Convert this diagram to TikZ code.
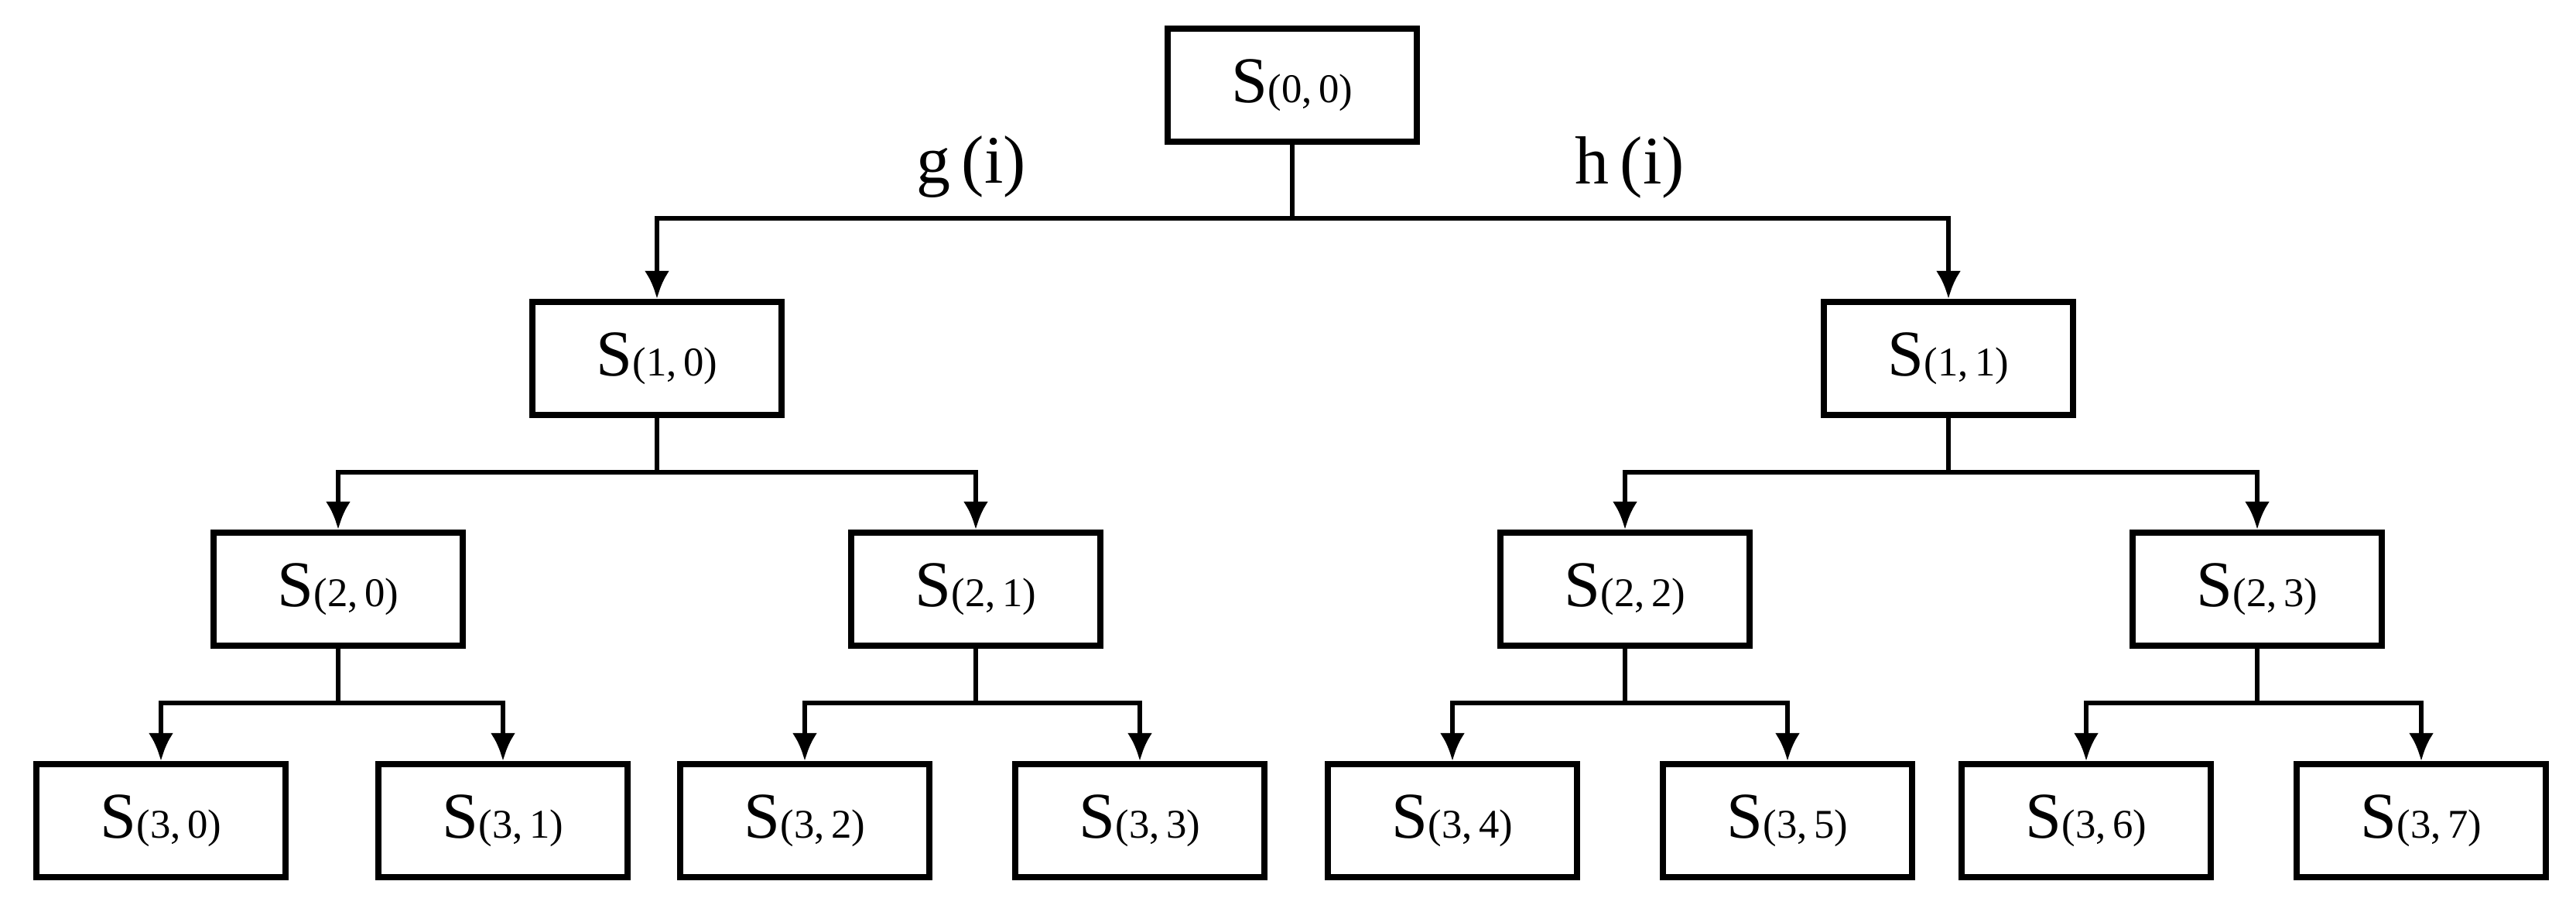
\documentclass[tikz,border=0pt]{standalone}
\usepackage{fontspec}
\setmainfont{Liberation Serif}
\usepackage{tikz}
\usetikzlibrary{arrows.meta,positioning}
\newcommand{\Sidx}[2]{S{\fontsize{15}{15}\selectfont(#1,\,#2)}}

\begin{document}
\begin{tikzpicture}[
  >={Latex[length=0.36cm,width=0.32cm]},
  state/.style={
    draw,
    line width=2.3pt,
    minimum width=3.22cm,
    minimum height=1.46cm,
    inner sep=0pt,
    font=\fontsize{24}{24}\selectfont
  },
  arrow/.style={->,draw=black,line width=1.9pt},
  branch/.style={font=\fontsize{25}{25}\selectfont}
]
\useasboundingbox (0,0) rectangle (33.29,11.78);

\node[state] (s00) at (16.70,10.68) {\Sidx{0}{0}};

\node[state] (s10) at (8.49,7.15) {\Sidx{1}{0}};
\node[state] (s11) at (25.18,7.15) {\Sidx{1}{1}};

\node[state] (s20) at (4.37,4.17) {\Sidx{2}{0}};
\node[state] (s21) at (12.61,4.17) {\Sidx{2}{1}};
\node[state] (s22) at (21.00,4.17) {\Sidx{2}{2}};
\node[state] (s23) at (29.17,4.17) {\Sidx{2}{3}};

\node[state] (s30) at (2.08,1.18) {\Sidx{3}{0}};
\node[state] (s31) at (6.50,1.18) {\Sidx{3}{1}};
\node[state] (s32) at (10.40,1.18) {\Sidx{3}{2}};
\node[state] (s33) at (14.73,1.18) {\Sidx{3}{3}};
\node[state] (s34) at (18.77,1.18) {\Sidx{3}{4}};
\node[state] (s35) at (23.10,1.18) {\Sidx{3}{5}};
\node[state] (s36) at (26.96,1.18) {\Sidx{3}{6}};
\node[state] (s37) at (31.29,1.18) {\Sidx{3}{7}};

\node[branch] (gi) at (12.55,9.62) {g\,(i)};
\node[branch] (hi) at (21.06,9.62) {h\,(i)};

\draw[arrow] (s00.south) -- ++(0,-0.95) -| (s10.north);
\draw[arrow] (s00.south) -- ++(0,-0.95) -| (s11.north);

\draw[arrow] (s10.south) -- ++(0,-0.70) -| (s20.north);
\draw[arrow] (s10.south) -- ++(0,-0.70) -| (s21.north);
\draw[arrow] (s11.south) -- ++(0,-0.70) -| (s22.north);
\draw[arrow] (s11.south) -- ++(0,-0.70) -| (s23.north);

\draw[arrow] (s20.south) -- ++(0,-0.70) -| (s30.north);
\draw[arrow] (s20.south) -- ++(0,-0.70) -| (s31.north);
\draw[arrow] (s21.south) -- ++(0,-0.70) -| (s32.north);
\draw[arrow] (s21.south) -- ++(0,-0.70) -| (s33.north);
\draw[arrow] (s22.south) -- ++(0,-0.70) -| (s34.north);
\draw[arrow] (s22.south) -- ++(0,-0.70) -| (s35.north);
\draw[arrow] (s23.south) -- ++(0,-0.70) -| (s36.north);
\draw[arrow] (s23.south) -- ++(0,-0.70) -| (s37.north);
\end{tikzpicture}
\end{document}
